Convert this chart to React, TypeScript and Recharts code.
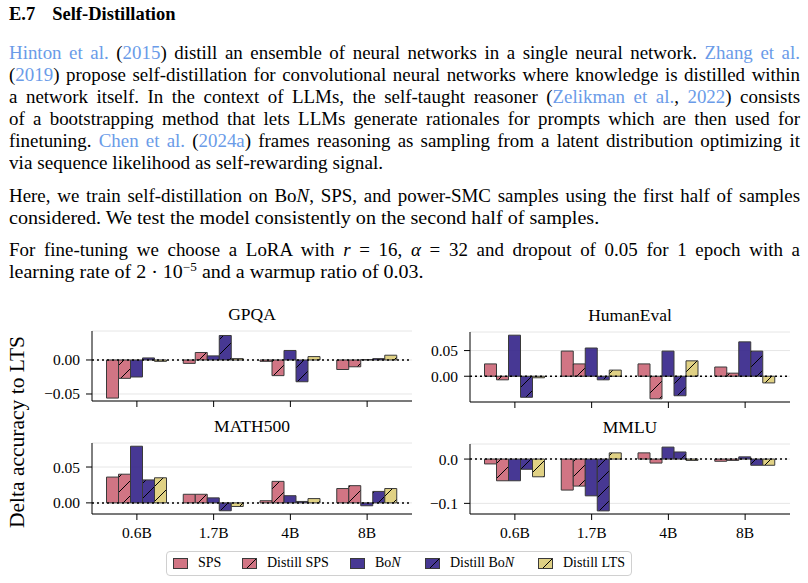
import React from 'react';
import { BarChart, Bar, XAxis, YAxis, CartesianGrid, ReferenceLine } from 'recharts';

// model sizes on the x axis
const sizes = ['0.6B', '1.7B', '4B', '8B'];

// GPQA
const gpqaSps = [-0.056, -0.005, -0.002, -0.014];
const gpqaDistillSps = [-0.027, 0.011, -0.023, -0.01];
const gpqaBon = [-0.025, 0.006, 0.014, 0.0005];
const gpqaDistillBon = [0.003, 0.036, -0.032, 0.002];
const gpqaDistillLts = [-0.002, 0.002, 0.005, 0.007];

// HumanEval
const heSps = [0.024, 0.049, 0.024, 0.018];
const heDistillSps = [-0.007, 0.024, -0.044, 0.006];
const heBon = [0.08, 0.055, 0.049, 0.067];
const heDistillBon = [-0.041, -0.007, -0.038, 0.049];
const heDistillLts = [-0.003, 0.012, 0.03, -0.013];

// MATH500
const mathSps = [0.036, 0.012, 0.003, 0.02];
const mathDistillSps = [0.04, 0.012, 0.03, 0.024];
const mathBon = [0.079, 0.007, 0.01, -0.004];
const mathDistillBon = [0.032, -0.011, 0.002, 0.016];
const mathDistillLts = [0.035, -0.005, 0.006, 0.02];

// MMLU
const mmluSps = [-0.011, -0.07, 0.014, -0.005];
const mmluDistillSps = [-0.049, -0.061, -0.009, -0.003];
const mmluBon = [-0.049, -0.083, 0.027, 0.005];
const mmluDistillBon = [-0.023, -0.117, 0.016, -0.014];
const mmluDistillLts = [-0.04, 0.014, -0.003, -0.014];

const ROSE = '#CC6677';
const INDIGO = '#332288';
const SAND = '#DDCC77';
const LINK = '#6a9be8';
const FONT = '"Liberation Serif", "Times New Roman", serif';

const SERIES = [
  { key: 'sps', label: 'SPS', color: ROSE, hatch: false },
  { key: 'dsps', label: 'Distill SPS', color: ROSE, hatch: true },
  { key: 'bon', label: 'BoN', color: INDIGO, hatch: false },
  { key: 'dbon', label: 'Distill BoN', color: INDIGO, hatch: true },
  { key: 'dlts', label: 'Distill LTS', color: SAND, hatch: true },
];

// legend item x offsets inside the legend box
const legendX = [6, 75, 183, 258, 371];

const buildRows = (sps: number[], dsps: number[], bon: number[], dbon: number[], dlts: number[]) =>
  sizes.map((size, i) => ({ size, sps: sps[i], dsps: dsps[i], bon: bon[i], dbon: dbon[i], dlts: dlts[i] }));

const minus = (v: number, digits: number) => (v < 0 ? '\u2212' : '') + Math.abs(v).toFixed(digits);

const Hatch = ({ id, color }: { id: string; color: string }) => (
  <pattern id={id} patternUnits="userSpaceOnUse" width={15} height={15}>
    <rect width={15} height={15} fill={color} fillOpacity={0.9} />
    <path d="M0,15 L15,0 M-3,3 L3,-3 M12,18 L18,12" stroke="#000" strokeWidth={1} />
  </pattern>
);

const PLOT_W = 320;
const AXIS_W = 72;

type PanelProps = {
  id: string;
  title: string;
  rows: any[];
  domain: [number, number];
  ticks: number[];
  digits: number;
  left: number;
  top: number;
  plotH: number;
  showLabels: boolean;
};

const Panel = ({ id, title, rows, domain, ticks, digits, left, top, plotH, showLabels }: PanelProps) => {
  const xh = showLabels ? 34 : 10;
  return (
    <div style={{ position: 'absolute', left: left - AXIS_W, top: top - 32 }}>
      <div style={{ marginLeft: AXIS_W, width: PLOT_W, height: 30, lineHeight: '30px', textAlign: 'center', fontSize: 17.5 }}>
        {title}
      </div>
      <BarChart
        width={AXIS_W + PLOT_W + 4}
        height={plotH + 2 + xh}
        data={rows}
        margin={{ top: 2, right: 4, bottom: 0, left: 0 }}
        barGap={0}
        barSize={12}
      >
        <defs>
          {SERIES.filter((s) => s.hatch).map((s) => (
            <Hatch key={s.key} id={`${id}-${s.key}`} color={s.color} />
          ))}
        </defs>
        <CartesianGrid vertical={false} stroke="#e6e6e6" />
        <XAxis
          dataKey="size"
          interval={0}
          padding={{ left: 6.5, right: 6.5 }}
          height={xh}
          tickSize={6}
          tickMargin={7}
          tickLine={{ stroke: '#000' }}
          axisLine={{ stroke: '#000' }}
          tick={{ fill: '#000', fontSize: 15.5 }}
          tickFormatter={showLabels ? undefined : () => ''}
        />
        <XAxis xAxisId="top" orientation="top" dataKey="size" height={0} tick={false} tickLine={false} axisLine={{ stroke: '#000' }} />
        <YAxis
          type="number"
          domain={domain}
          ticks={ticks}
          allowDataOverflow
          width={AXIS_W}
          tickSize={6}
          tickMargin={6}
          tickLine={{ stroke: '#000' }}
          axisLine={{ stroke: '#000' }}
          tick={{ fill: '#000', fontSize: 15.5 }}
          tickFormatter={(v: number) => minus(v, digits)}
        />
        <YAxis yAxisId="right" orientation="right" type="number" domain={domain} allowDataOverflow width={0} tick={false} tickLine={false} axisLine={{ stroke: '#000' }} />
        {SERIES.map((s) => (
          <Bar
            key={s.key}
            dataKey={s.key}
            fill={s.hatch ? `url(#${id}-${s.key})` : s.color}
            fillOpacity={s.hatch ? 1 : 0.9}
            stroke="#3a3a3a"
            strokeWidth={1}
            isAnimationActive={false}
          />
        ))}
        <ReferenceLine y={0} stroke="#000" strokeWidth={1.5} strokeDasharray="2 3" />
      </BarChart>
    </div>
  );
};

const Swatch = ({ id, color, hatch }: { id: string; color: string; hatch: boolean }) => (
  <svg width={15} height={11} style={{ display: 'block' }}>
    <defs>{hatch && <Hatch id={id} color={color} />}</defs>
    <rect x={0.5} y={0.5} width={14} height={10} fill={hatch ? `url(#${id})` : color} fillOpacity={hatch ? 1 : 0.9} stroke="#3a3a3a" strokeWidth={1} />
  </svg>
);

const LegendLabel = ({ label }: { label: string }) =>
  label.endsWith('BoN') ? (
    <span>
      {label.slice(0, -1)}
      <i>N</i>
    </span>
  ) : (
    <span>{label}</span>
  );

const L = ({ children }: { children: React.ReactNode }) => <span style={{ color: LINK }}>{children}</span>;

// one text line: justified lines fill the column, last lines of a paragraph stay left
const Line = ({ top, scale, justify = true, children }: { top: number; scale: number; justify?: boolean; children: React.ReactNode }) => (
  <div
    style={{
      position: 'absolute',
      left: 9,
      top,
      width: 791 / scale,
      height: 22,
      lineHeight: '22px',
      fontSize: 18.2,
      wordSpacing: justify ? -2 : 0,
      textAlign: justify ? 'justify' : 'left',
      textAlignLast: justify ? 'justify' : 'left',
      whiteSpace: justify ? 'normal' : 'nowrap',
      transform: `scaleX(${scale})`,
      transformOrigin: '0 0',
    }}
  >
    {children}
  </div>
);

export default function App() {
  const gpqa = buildRows(gpqaSps, gpqaDistillSps, gpqaBon, gpqaDistillBon, gpqaDistillLts);
  const he = buildRows(heSps, heDistillSps, heBon, heDistillBon, heDistillLts);
  const math = buildRows(mathSps, mathDistillSps, mathBon, mathDistillBon, mathDistillLts);
  const mmlu = buildRows(mmluSps, mmluDistillSps, mmluBon, mmluDistillBon, mmluDistillLts);

  return (
    <div style={{ position: 'absolute', left: 0, top: 0, width: 808, height: 583, background: '#fff', fontFamily: FONT, color: '#000', overflow: 'hidden' }}>
      <div style={{ position: 'absolute', left: 9, top: 3, fontSize: 18.5, fontWeight: 'bold', lineHeight: '22px' }}>
        E.7<span style={{ marginLeft: 17 }}>Self-Distillation</span>
      </div>

      <Line top={42} scale={1.04}>
        <L>Hinton et al.</L> (<L>2015</L>) distill an ensemble of neural networks in a single neural network. <L>Zhang et al.</L>
      </Line>
      <Line top={64} scale={1.04}>
        (<L>2019</L>) propose self-distillation for convolutional neural networks where knowledge is distilled within
      </Line>
      <Line top={86} scale={1.04}>
        a network itself. In the context of LLMs, the self-taught reasoner (<L>Zelikman et al.</L>, <L>2022</L>) consists
      </Line>
      <Line top={108} scale={1.04}>
        of a bootstrapping method that lets LLMs generate rationales for prompts which are then used for
      </Line>
      <Line top={130} scale={1.04}>
        finetuning. <L>Chen et al.</L> (<L>2024a</L>) frames reasoning as sampling from a latent distribution optimizing it
      </Line>
      <Line top={152} scale={1.055} justify={false}>
        via sequence likelihood as self-rewarding signal.
      </Line>

      <Line top={185} scale={1.04}>
        Here, we train self-distillation on Bo<i>N</i>, SPS, and power-SMC samples using the first half of samples
      </Line>
      <Line top={207} scale={1.105} justify={false}>
        considered. We test the model consistently on the second half of samples.
      </Line>

      <Line top={239} scale={1.04}>
        For fine-tuning we choose a LoRA with <i>r</i> = 16, <i>α</i> = 32 and dropout of 0.05 for 1 epoch with a
      </Line>
      <Line top={261} scale={1.1} justify={false}>
        learning rate of 2 · 10<sup style={{ fontSize: 12, lineHeight: 0 }}>−5</sup> and a warmup ratio of 0.03.
      </Line>

      <Panel id="gpqa" title="GPQA" rows={gpqa} domain={[-0.0603, 0.0426]} ticks={[-0.05, 0]} digits={2} left={92} top={331} plotH={70} showLabels={false} />
      <Panel id="he" title="HumanEval" rows={he} domain={[-0.0502, 0.0862]} ticks={[0, 0.05]} digits={2} left={470} top={332} plotH={70} showLabels={false} />
      <Panel id="math" title="MATH500" rows={math} domain={[-0.0155, 0.0835]} ticks={[0, 0.05]} digits={2} left={92} top={443} plotH={71} showLabels />
      <Panel id="mmlu" title="MMLU" rows={mmlu} domain={[-0.124, 0.034]} ticks={[-0.1, 0]} digits={1} left={470} top={444} plotH={70} showLabels />

      <div
        style={{
          position: 'absolute',
          left: 17,
          top: 432,
          fontSize: 21.5,
          whiteSpace: 'nowrap',
          transform: 'translate(-50%, -50%) rotate(-90deg)',
        }}
      >
        Delta accuracy to LTS
      </div>

      <div
        style={{
          position: 'absolute',
          left: 166,
          top: 551,
          width: 466,
          height: 25,
          boxSizing: 'border-box',
          border: '1.5px solid #d0d0d0',
          borderRadius: 4,
          fontSize: 14,
        }}
      >
        {SERIES.map((s, i) => (
          <div
            key={s.key}
            style={{ position: 'absolute', left: legendX[i], top: 0, height: 22, display: 'flex', alignItems: 'center', whiteSpace: 'nowrap' }}
          >
            <Swatch id={`lg-${s.key}`} color={s.color} hatch={s.hatch} />
            <div style={{ marginLeft: 10 }}>
              <LegendLabel label={s.label} />
            </div>
          </div>
        ))}
      </div>
    </div>
  );
}
